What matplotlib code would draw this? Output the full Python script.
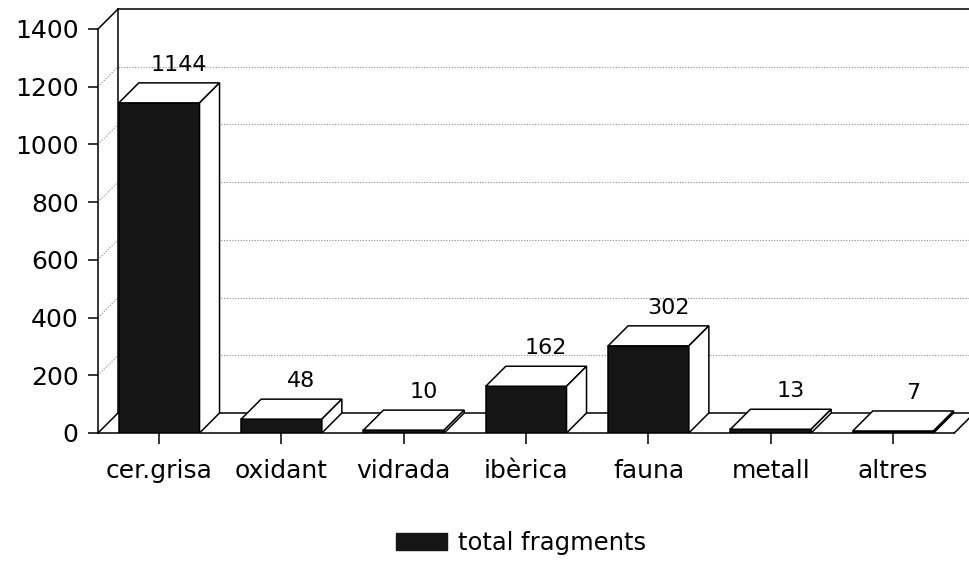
import matplotlib
matplotlib.use("Agg")
import matplotlib.pyplot as plt
from matplotlib.patches import Polygon, Patch

# data
categories = ["cer.grisa", "oxidant", "vidrada", "ibèrica", "fauna", "metall", "altres"]
values = [1144, 48, 10, 162, 302, 13, 7]
yticks = [0, 200, 400, 600, 800, 1000, 1200, 1400]
series_name = "total fragments"

plt.rcParams["font.family"] = ["DejaVu Sans"]

fig = plt.figure(figsize=(9.69, 5.66), dpi=100)
ax = fig.add_axes([98 / 969, 133 / 566, 871 / 969, 404 / 566])
ax.set_xlim(-0.5, 6.62)
ax.set_ylim(0, 1400)

# pseudo-3D depth (in data units)
dx = 0.1635
dy = 69.3
w = 0.66
x0, x1 = -0.5, 6.5
lw = 1.1

# back wall gridlines (dotted) + side wall diagonals
for t in yticks[1:-1]:
    ax.plot([x0 + dx, 6.7], [t + dy, t + dy], color="#888888", lw=0.8,
            linestyle=(0, (1, 1.5)), zorder=1, clip_on=False)
    ax.plot([x0, x0 + dx], [t, t + dy], color="#888888", lw=0.8,
            linestyle=(0, (1, 1.5)), zorder=1, clip_on=False)

# walls / floor outline
k = dict(color="black", lw=lw, zorder=2, clip_on=False)
ax.plot([x0 + dx, x0 + dx], [dy, 1400 + dy], **k)
ax.plot([x0 + dx, 6.8], [1400 + dy, 1400 + dy], **k)
ax.plot([x0, x0 + dx], [1400, 1400 + dy], **k)
ax.plot([x0, x0 + dx], [0, dy], **k)
ax.plot([x0 + dx, x1 + dx], [dy, dy], **k)
ax.plot([x1, x1 + dx], [0, dy], **k)

# bars: dark front face, white top and side
for i, v in enumerate(values):
    l, r = i - w / 2, i + w / 2
    front = Polygon([(l, 0), (r, 0), (r, v), (l, v)], closed=True,
                    facecolor="#151515", edgecolor="black", lw=lw, zorder=3)
    top = Polygon([(l, v), (r, v), (r + dx, v + dy), (l + dx, v + dy)], closed=True,
                  facecolor="white", edgecolor="black", lw=lw, zorder=3)
    side = Polygon([(r, 0), (r + dx, dy), (r + dx, v + dy), (r, v)], closed=True,
                   facecolor="white", edgecolor="black", lw=lw, zorder=3)
    for p in (front, top, side):
        ax.add_patch(p)
    ax.annotate(str(v), xy=(i + dx, v + dy), xytext=(0, 6), textcoords="offset points",
                ha="center", va="bottom", fontsize=16, zorder=4)

# axes
for s in ("top", "right"):
    ax.spines[s].set_visible(False)
ax.spines["left"].set_linewidth(lw)
ax.spines["bottom"].set_linewidth(lw)
ax.spines["bottom"].set_bounds(x0, x1)
ax.set_yticks(yticks)
ax.set_xticks(range(len(categories)))
ax.set_xticklabels(categories)
ax.tick_params(axis="y", length=7, width=lw, pad=7, labelsize=18)
ax.tick_params(axis="x", length=8, width=lw, pad=11, labelsize=18)

fig.legend(handles=[Patch(facecolor="#151515", edgecolor="#151515", label=series_name)],
           loc="center", bbox_to_anchor=(0.538, 1 - 543 / 566), frameon=False,
           fontsize=17.5, handlelength=2.1, handleheight=0.75, handletextpad=0.45)

fig.savefig("out.png", dpi=100)
